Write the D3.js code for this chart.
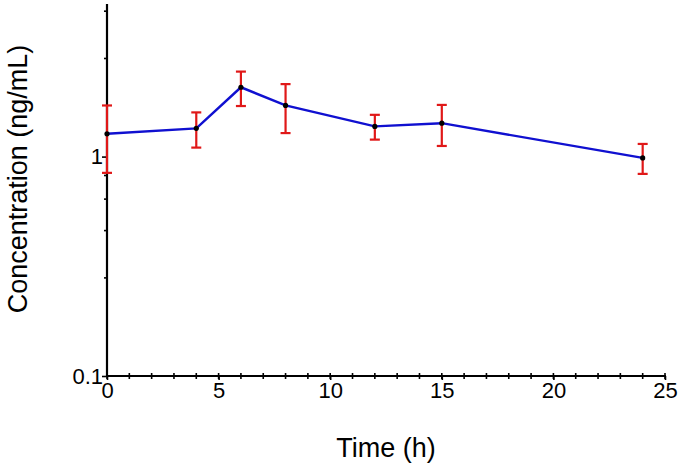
<!DOCTYPE html>
<html>
<head>
<meta charset="utf-8">
<script src="https://cdn.jsdelivr.net/npm/d3@7"></script>
<style>
html,body{margin:0;padding:0;background:#fff;}
svg{display:block;font-family:"Liberation Sans",Arial,sans-serif;}
</style>
</head>
<body>
<svg id="chart" width="685" height="470"></svg>
<script>
const times = [0, 4, 6, 8, 12, 15, 24];
const conc = [1.27, 1.345, 2.07, 1.71, 1.373, 1.42, 0.986];
const errUpper = [1.71, 1.59, 2.44, 2.14, 1.55, 1.72, 1.142];
const errLower = [0.843, 1.099, 1.70, 1.28, 1.195, 1.118, 0.834];
const xTicks = [0, 5, 10, 15, 20, 25];
const xMinorTicks = d3.range(0, 26, 1);
const yTicks = [0.1, 1];
const yMinorTicks = [0.28, 0.46, 0.64, 0.82, 2.8, 4.6];
const xTitle = "Time (h)";
const yTitle = "Concentration (ng/mL)";

const svg = d3.select("#chart");
const mLeft = 107, mRight = 665, mTop = 4, mBottom = 376;

const x = d3.scaleLinear().domain([0, 25]).range([mLeft, mRight]);
const y = d3.scaleLog().domain([0.1, 4.96]).range([mBottom, mTop]);

// minor ticks x
svg.append("g").selectAll("line").data(xMinorTicks).join("line")
  .attr("x1", d => x(d)).attr("x2", d => x(d))
  .attr("y1", mBottom - 3).attr("y2", mBottom + 3)
  .attr("stroke", "#000").attr("stroke-width", 1.6);
// minor ticks y
svg.append("g").selectAll("line").data(yMinorTicks).join("line")
  .attr("x1", mLeft - 3).attr("x2", mLeft + 1)
  .attr("y1", d => y(d)).attr("y2", d => y(d))
  .attr("stroke", "#000").attr("stroke-width", 1.6);

// x axis
const xAxis = svg.append("g").attr("transform", `translate(0,${mBottom})`)
  .call(d3.axisBottom(x).tickValues(xTicks).tickSize(4).tickFormat(d3.format("d")));
xAxis.select(".domain").attr("stroke-width", 2.2).attr("d", `M${mLeft},0H${mRight + 1}`);
xAxis.selectAll(".tick line").attr("stroke-width", 1.6);
xAxis.selectAll(".tick text").attr("font-size", 22).attr("fill", "#000").attr("dy", "0.71em").attr("y", 6)
  .attr("font-family", "Liberation Sans, Arial, sans-serif");

// y axis
const yAxis = svg.append("g").attr("transform", `translate(${mLeft},0)`)
  .call(d3.axisLeft(y).tickValues(yTicks).tickSize(5).tickFormat(d => d === 1 ? "1" : String(d)));
yAxis.select(".domain").attr("stroke-width", 2.2).attr("d", `M0,${mTop}V${mBottom + 1}`);
yAxis.selectAll(".tick line").attr("stroke-width", 1.6);
yAxis.selectAll(".tick text").attr("font-size", 22).attr("fill", "#000").attr("x", -4)
  .attr("font-family", "Liberation Sans, Arial, sans-serif");

// titles
svg.append("text").attr("x", 386).attr("y", 457).attr("text-anchor", "middle")
  .attr("font-size", 27).attr("fill", "#000").text(xTitle);
svg.append("text").attr("transform", "translate(27,179) rotate(-90)").attr("text-anchor", "middle")
  .attr("font-size", 27).attr("fill", "#000").text(yTitle);

const data = times.map((t, i) => ({t, c: conc[i], hi: errUpper[i], lo: errLower[i]}));

// line
svg.append("path").datum(data)
  .attr("fill", "none").attr("stroke", "#1010d0").attr("stroke-width", 2.4)
  .attr("d", d3.line().x(d => x(d.t)).y(d => y(d.c)));

// error bars
const eb = svg.append("g").attr("stroke", "#e01818").attr("stroke-width", 2.2);
eb.selectAll("line.v").data(data).join("line").attr("class", "v")
  .attr("x1", d => x(d.t)).attr("x2", d => x(d.t))
  .attr("y1", d => y(d.hi)).attr("y2", d => y(d.lo));
eb.selectAll("line.h").data(data).join("line").attr("class", "h")
  .attr("x1", d => x(d.t) - 5).attr("x2", d => x(d.t) + 5)
  .attr("y1", d => y(d.hi)).attr("y2", d => y(d.hi));
eb.selectAll("line.l").data(data).join("line").attr("class", "l")
  .attr("x1", d => x(d.t) - 5).attr("x2", d => x(d.t) + 5)
  .attr("y1", d => y(d.lo)).attr("y2", d => y(d.lo));

// points
svg.append("g").selectAll("circle").data(data).join("circle")
  .attr("cx", d => x(d.t)).attr("cy", d => y(d.c)).attr("r", 2.6).attr("fill", "#000");
</script>
</body>
</html>
